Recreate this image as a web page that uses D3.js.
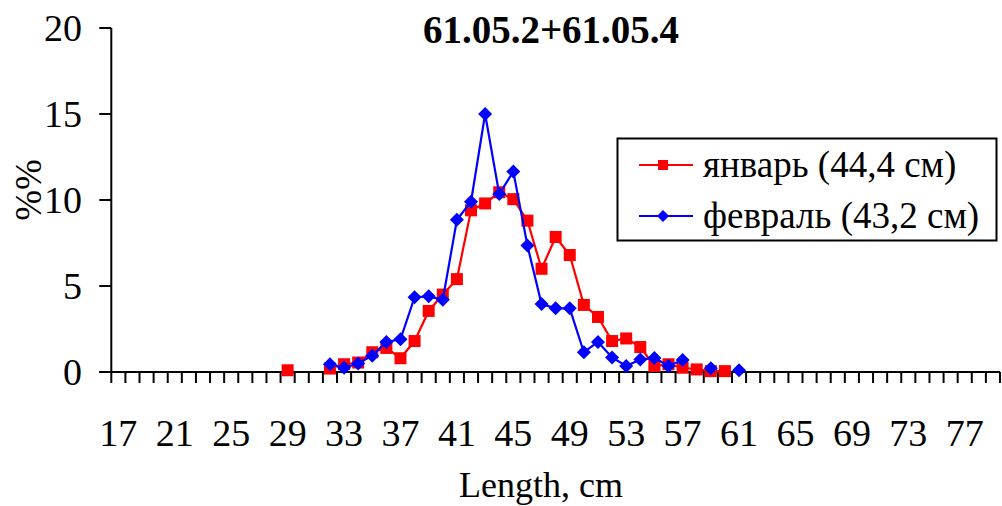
<!DOCTYPE html>
<html><head><meta charset="utf-8">
<script src="https://cdn.jsdelivr.net/npm/d3@7"></script>
<style>html,body{margin:0;padding:0;background:#fff;overflow:hidden}svg{display:block}</style>
</head><body><svg id="c" width="1002" height="506"></svg>
<script>
const categories = d3.range(17, 80);
const tickLabels = [17,21,25,29,33,37,41,45,49,53,57,61,65,69,73,77];
const yTicks = [0,5,10,15,20];
const janLengths = [29,30,31,32,33,34,35,36,37,38,39,40,41,42,43,44,45,46,47,48,49,50,51,52,53,54,55,56,57,58,59,60];
const janValues  = [0.1,null,null,0.2,0.45,0.55,1.15,1.4,0.8,1.8,3.55,4.5,5.4,9.4,9.8,10.45,10.05,8.8,6.0,7.85,6.8,3.9,3.2,1.8,1.95,1.45,0.35,0.45,0.25,0.15,0.05,0.05];
const febLengths = [32,33,34,35,36,37,38,39,40,41,42,43,44,45,46,47,48,49,50,51,52,53,54,55,56,57,58,59,60,61];
const febValues  = [0.45,0.25,0.5,0.95,1.75,1.9,4.35,4.4,4.2,8.85,9.9,15.0,10.35,11.65,7.35,3.95,3.7,3.7,1.15,1.75,0.85,0.35,0.72,0.82,0.35,0.7,null,0.22,null,0.1];
const seriesNames = ["январь (44,4 см)", "февраль (43,2 см)"];
const title = "61.05.2+61.05.4";

const svg = d3.select("#c");
const FONT = "'Liberation Serif','Times New Roman',serif";
const L = 111.3, R = 1000, T = 28, B = 372;
const x = d3.scaleBand().domain(categories).range([L, R]).paddingInner(0).paddingOuter(0);
const y = d3.scaleLinear().domain([0, 20]).range([B, T]);
const cx = c => x(c) + x.bandwidth() / 2;

// x axis ticks at category boundaries
const bounds = categories.map(c => x(c)).concat([R]);
svg.append("g").selectAll("line").data(bounds).join("line")
  .attr("x1", d => d).attr("x2", d => d).attr("y1", B).attr("y2", B + 11)
  .attr("stroke", "#000").attr("stroke-width", 2);
// y ticks
svg.append("g").selectAll("line").data(yTicks).join("line")
  .attr("x1", L - 12).attr("x2", L).attr("y1", d => y(d)).attr("y2", d => y(d))
  .attr("stroke", "#000").attr("stroke-width", 2);
// axis lines
svg.append("line").attr("x1", L).attr("x2", L).attr("y1", T).attr("y2", B).attr("stroke", "#000").attr("stroke-width", 2);
svg.append("line").attr("x1", L - 12).attr("x2", R).attr("y1", B).attr("y2", B).attr("stroke", "#000").attr("stroke-width", 2);

// y labels
svg.append("g").selectAll("text").data(yTicks).join("text")
  .attr("x", 82).attr("y", d => y(d)).attr("dy", "0.35em")
  .attr("text-anchor", "end").attr("font-family", FONT).attr("font-size", 38)
  .text(d => d);
// x labels
svg.append("g").selectAll("text").data(tickLabels).join("text")
  .attr("x", d => cx(d)).attr("y", 446)
  .attr("text-anchor", "middle").attr("font-family", FONT).attr("font-size", 38)
  .text(d => d);

// titles
svg.append("text").attr("x", 551).attr("y", 43).attr("text-anchor", "middle")
  .attr("font-family", FONT).attr("font-weight", "bold").attr("font-size", 39).text(title);
svg.append("text").attr("x", 541).attr("y", 497).attr("text-anchor", "middle")
  .attr("font-family", FONT).attr("font-size", 36).text("Length, cm");
svg.append("text").attr("transform", "translate(41,190) rotate(-90)").attr("text-anchor", "middle")
  .attr("font-family", FONT).attr("font-size", 37).text("%%");

const line = d3.line().defined(d => d.v != null).x(d => cx(d.c)).y(d => y(d.v));
const jan = janLengths.map((c, i) => ({c, v: janValues[i]}));
const feb = febLengths.map((c, i) => ({c, v: febValues[i]}));

function drawSeries(data, color, shape) {
  svg.append("path").datum(data).attr("d", line).attr("fill", "none")
    .attr("stroke", color).attr("stroke-width", 2.2);
  const pts = data.filter(d => d.v != null);
  if (shape === "square") {
    svg.append("g").selectAll("rect").data(pts).join("rect")
      .attr("x", d => cx(d.c) - 6).attr("y", d => y(d.v) - 6)
      .attr("width", 12).attr("height", 12).attr("fill", color);
  } else {
    svg.append("g").selectAll("path").data(pts).join("path")
      .attr("d", d => { const X = cx(d.c), Y = y(d.v), r = 7; return `M${X},${Y-r}L${X+r},${Y}L${X},${Y+r}L${X-r},${Y}Z`; })
      .attr("fill", color);
  }
}
drawSeries(jan, "#ff0000", "square");
drawSeries(feb, "#0000ff", "diamond");

// legend
const lg = svg.append("g");
lg.append("rect").attr("x", 617.5).attr("y", 138.5).attr("width", 379).attr("height", 102)
  .attr("fill", "#fff").attr("stroke", "#000").attr("stroke-width", 2);
const rows = [{n: seriesNames[0], c: "#ff0000", s: "square", y: 165}, {n: seriesNames[1], c: "#0000ff", s: "diamond", y: 216}];
rows.forEach(r => {
  lg.append("line").attr("x1", 639).attr("x2", 693).attr("y1", r.y).attr("y2", r.y).attr("stroke", r.c).attr("stroke-width", 2);
  if (r.s === "square") lg.append("rect").attr("x", 658).attr("y", r.y - 5).attr("width", 10).attr("height", 10).attr("fill", r.c);
  else lg.append("path").attr("d", `M663,${r.y-6}L669,${r.y}L663,${r.y+6}L657,${r.y}Z`).attr("fill", r.c);
  lg.append("text").attr("x", 703).attr("y", r.y + 12).attr("font-family", FONT).attr("font-size", 37).text(r.n);
});
</script></body></html>
